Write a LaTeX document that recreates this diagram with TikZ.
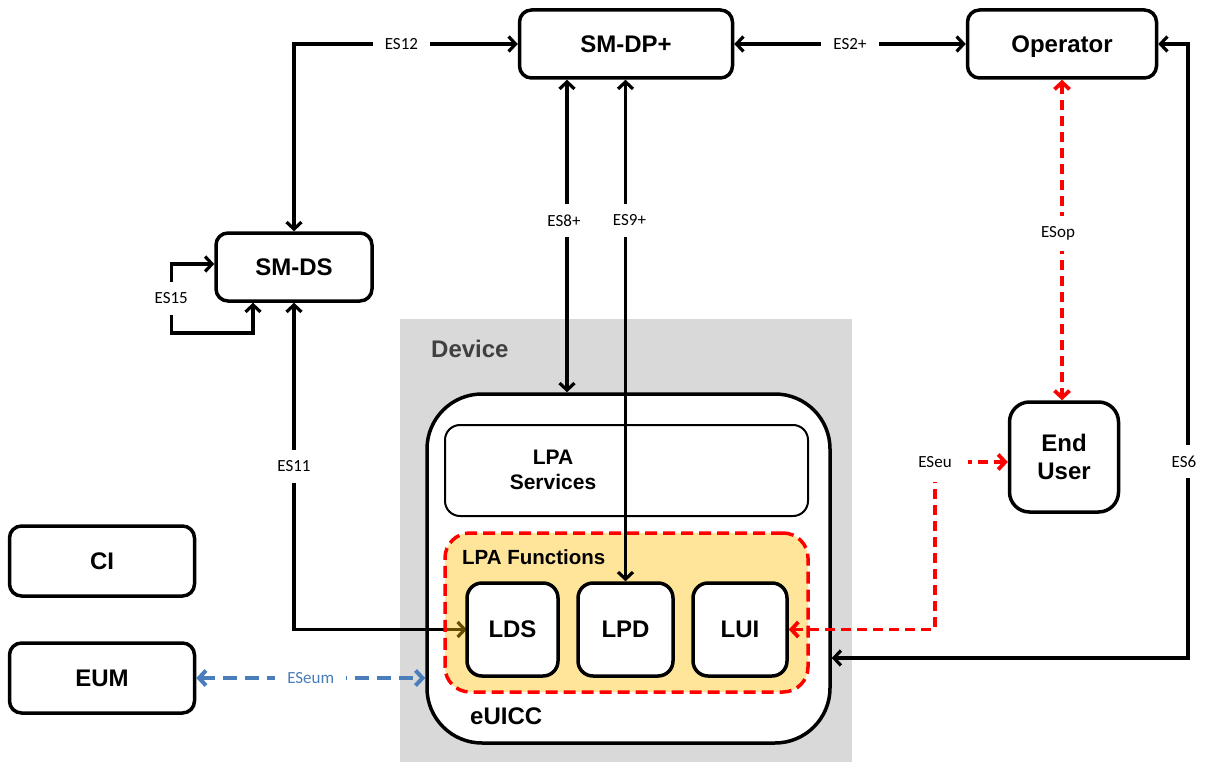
\documentclass[tikz,border=0pt]{standalone}
\usepackage{fontspec}
\setmainfont{Liberation Sans}
\newfontfamily\lblfont{Carlito}
\usetikzlibrary{arrows.meta,calc}
\definecolor{devgray}{HTML}{D9D9D9}
\definecolor{lpayellow}{HTML}{FFC000}
\definecolor{eumblue}{HTML}{4A7EBB}
\definecolor{devtext}{HTML}{404040}
\begin{document}
\begin{tikzpicture}[x=1pt,y=-1pt,
  bigfont/.style={font=\fontsize{24}{28}\selectfont\bfseries},
  box/.style={draw=black, line width=3.5pt, rounded corners=12pt, fill=white,
    bigfont, align=center, inner sep=0pt, text depth=0pt},
  tipb/.tip={Straight Barb[length=7pt,width=15pt]},
  conn/.style={line width=3.2pt, tipb-tipb},
  redconn/.style={draw=red, line width=3.8pt, dash pattern=on 10pt off 6pt, tipb-tipb},
  blueconn/.style={draw=eumblue, line width=4pt, dash pattern=on 14pt off 8pt, tipb-tipb},
  lbl/.style={font=\lblfont\fontsize{17}{20}\selectfont, fill=white, inner xsep=12pt, inner ysep=11pt},
]
\useasboundingbox (0,0) rectangle (1206,762);

% device background
\node[fill=devgray, minimum width=452pt, minimum height=443pt, inner sep=0pt, anchor=north west] (device) at (400,319) {};
\node[bigfont, text=devtext, anchor=west, inner sep=0pt] (devlabel) at (431,349) {Device};

% eUICC
\node[draw, line width=3.5pt, fill=white, rounded corners=55pt, minimum width=403pt, minimum height=349pt, inner sep=0pt] (euicc) at (628.5,568.5) {};
\node[bigfont, anchor=west, inner sep=0pt] (euicclbl) at (470,716) {eUICC};

% LPA Services
\node[draw, line width=2pt, rounded corners=15pt, fill=white, minimum width=363pt, minimum height=91pt, inner sep=0pt] (lpas) at (626.5,470.5) {};
\node[font=\fontsize{21}{25}\selectfont\bfseries, align=center, inner sep=0pt] (lpastext) at (553,470) {LPA\\Services};

% ES11 (drawn below the LPA Functions tint)
\node[box, minimum width=156pt, minimum height=68pt] (smds) at (294,267) {SM-DS};
\path (512.5,629.5) coordinate (ldsc);
\node[minimum width=91pt, minimum height=93pt, inner sep=0pt] (ldsghost) at (ldsc) {};
\draw[conn] (smds.south) |- node[lbl,pos=0.25]{ES11} (ldsghost.west);

% LPA Functions
\node[draw=red, dash pattern=on 12pt off 6pt, line width=3.5pt, rounded corners=25pt, fill=lpayellow, fill opacity=0.4, minimum width=363pt, minimum height=159pt, inner sep=0pt] (lpaf) at (626.5,612.5) {};
\node[font=\fontsize{20.5}{24}\selectfont\bfseries, anchor=west, inner sep=0pt] (lpaflbl) at (462,557) {LPA Functions};

\node[box, rounded corners=15pt, minimum width=91pt, minimum height=93pt] (lds) at (ldsc) {LDS};
\node[box, rounded corners=15pt, minimum width=95pt, minimum height=93pt] (lpd) at (625.5,629.5) {LPD};
\node[box, rounded corners=15pt, minimum width=94pt, minimum height=93pt] (lui) at (740,629.5) {LUI};

% other boxes
\node[box, minimum width=213pt, minimum height=68pt] (smdp) at (626,44) {SM-DP+};
\node[box, minimum width=189pt, minimum height=68pt] (operator) at (1062,44) {Operator};
\node[box, minimum width=185pt, minimum height=70pt] (ci) at (102,561) {CI};
\node[box, minimum width=185pt, minimum height=70pt] (eum) at (102,678) {EUM};
\node[box, rounded corners=20pt, minimum width=109pt, minimum height=110pt] (enduser) at (1064,457) {End\\User};

% connectors
\coordinate (x567) at (567,0);
\coordinate (es6c) at (1188,658);
\coordinate (eseuc) at (935,462);

\draw[conn] (smds.north) |- node[lbl,pos=0.74]{ES12} (smdp.west);
\draw[conn] (smdp.east) -- node[lbl]{ES2+} (operator.west);
\draw[conn] (smdp.south -| x567) -- node[lbl,pos=0.45,xshift=-3pt]{ES8+} (euicc.north -| x567);
\draw[conn] (lpd.north |- smdp.south) -- node[lbl,pos=0.28,xshift=4pt]{ES9+} (lpd.north);
\draw[conn] ([yshift=3pt]smds.west) -- ++(-43,0) -- node[lbl]{ES15} ++(0,69) -| ([xshift=-41pt]smds.south);
\draw[conn] (operator.east) -| node[lbl,pos=0.84,xshift=-4pt]{ES6} (es6c) -- (es6c -| euicc.east);
\draw[redconn] (operator.south) -- node[lbl,pos=0.48,xshift=-4pt]{ESop} (operator.south |- enduser.north);
\draw[redconn] (lui.east) -| (eseuc) node[lbl, inner xsep=16pt, inner ysep=14pt]{ESeu} -- (eseuc -| enduser.west);
\draw[blueconn] (eum.east) -- node[lbl, text=eumblue]{ESeum} (eum.east -| euicc.west);
\end{tikzpicture}
\end{document}
